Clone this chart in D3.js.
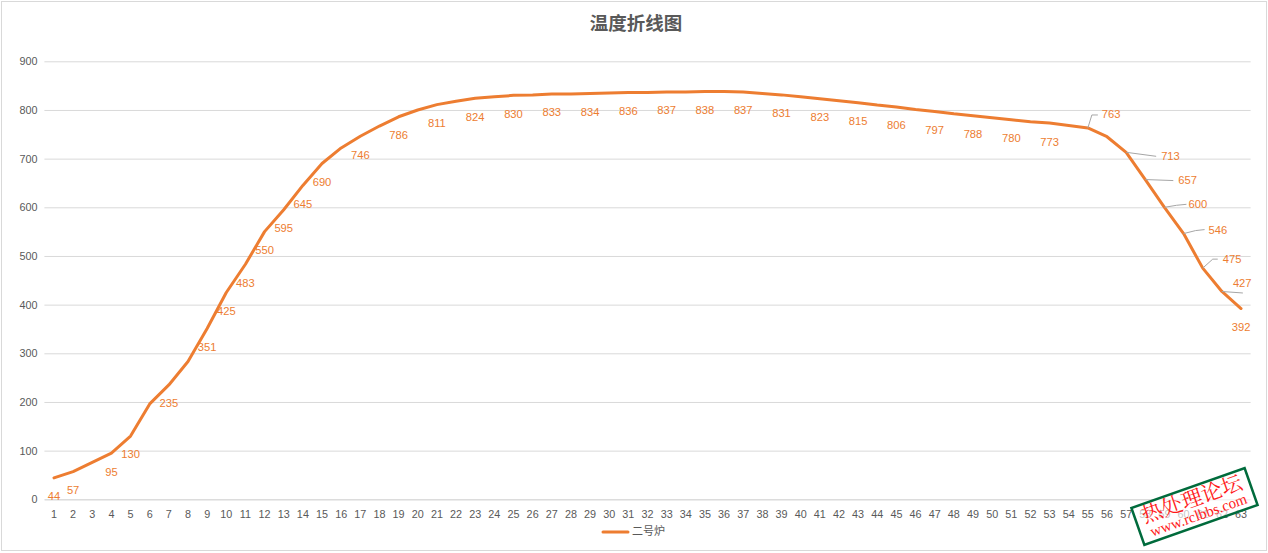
<!DOCTYPE html>
<html>
<head>
<meta charset="utf-8">
<script src="https://cdn.jsdelivr.net/npm/d3@7/dist/d3.min.js"></script>
<style>
  html, body { margin: 0; padding: 0; background: #fff; }
  svg { display: block; }
</style>
</head>
<body>
<svg id="chart" width="1268" height="553"></svg>
<script>
// ---- data ----
const title = "温度折线图";
const seriesName = "二号炉";
const categories = d3.range(1, 64).map(String);
const values = [44, 57, 76, 95, 130, 196, 235, 283, 351, 425, 483, 550, 595, 645, 690, 722, 746, 767, 786, 800,
  811, 818, 824, 827, 830, 831, 833, 833, 834, 835, 836, 836, 837, 837, 838, 838, 837, 834, 831, 827,
  823, 819, 815, 810, 806, 801, 797, 792, 788, 784, 780, 776, 773, 768, 763, 745, 713, 657, 600, 546,
  475, 427, 392];
const labeledCategories = ["1","2","4","5","7","9","10","11","12","13","14","15","17","19","21","23","25","27","29",
  "31","33","35","37","39","41","43","45","47","49","51","53","55","57","58","59","60","61","62","63"];
const yTicks = [0, 100, 200, 300, 400, 500, 600, 700, 800, 900];

// ---- layout / style (not data) ----
const color = "#ED7D31";
const textColor = "#595959";
const gridColor = "#D9D9D9";
const font = "'Liberation Sans', Arial, sans-serif";
// manually moved labels: text start offset and leader polyline, relative to the point
const movedLabels = {
  "55": { tx: 14, ty: -13, leader: [[0,0],[4,-13],[10,-13]] },
  "57": { tx: 35, ty: 5, leader: [[0,0],[30,4]] },
  "58": { tx: 33, ty: 1, leader: [[0,0],[28,1]] },
  "59": { tx: 24, ty: -2, leader: [[0,0],[12,-2],[22,-3]] },
  "60": { tx: 25, ty: -3, leader: [[0,0],[12,-3],[21,-4]] },
  "61": { tx: 20, ty: -8, leader: [[0,0],[10,-9],[15,-9]] },
  "62": { tx: 11, ty: -7, leader: [[0,0],[21,1.5]] }
};

const svg = d3.select("#chart");
svg.append("rect").attr("x", 1.5).attr("y", 1.5).attr("width", 1265).attr("height", 549)
  .attr("fill", "#fff").attr("stroke", gridColor).attr("stroke-width", 1);

const x = d3.scaleBand().domain(categories).range([44.4, 1250.6]);
const cx = d => x(d) + x.bandwidth() / 2;
const y = d3.scaleLinear().domain([0, 900]).range([499.3, 61.3]);

// title
svg.append("text").attr("x", 636).attr("y", 25).attr("text-anchor", "middle")
  .attr("dominant-baseline", "middle")
  .attr("font-family", "'Noto Sans CJK SC', sans-serif").attr("font-weight", "bold")
  .attr("font-size", 18.5).attr("fill", textColor).text(title);

// gridlines + y axis labels
const yAxis = d3.axisLeft(y).tickValues(yTicks).tickSize(-(1250.6 - 44.4)).tickPadding(7);
const gy = svg.append("g").attr("transform", "translate(44.4,0)").call(yAxis);
gy.select(".domain").remove();
gy.selectAll(".tick line").attr("stroke", gridColor).attr("stroke-width", 1);
gy.selectAll(".tick text").attr("font-family", font).attr("font-size", 10.8).attr("fill", textColor);

// x axis
const xAxis = d3.axisBottom(x).tickSize(0).tickPadding(11);
const gx = svg.append("g").attr("transform", `translate(0,${y(0)})`).call(xAxis);
gx.select(".domain").attr("stroke", gridColor);
gx.selectAll(".tick text").attr("font-family", font).attr("font-size", 10.8).attr("fill", textColor);

// line
const line = d3.line().x((d, i) => cx(categories[i])).y(d => y(d));
svg.append("path").datum(values).attr("d", line).attr("fill", "none")
  .attr("stroke", color).attr("stroke-width", 3).attr("stroke-linejoin", "round").attr("stroke-linecap", "round");

// data labels
const lbl = svg.append("g");
labeledCategories.forEach(c => {
  const i = categories.indexOf(c);
  const px = cx(c), py = y(values[i]);
  const m = movedLabels[c];
  if (m) {
    lbl.append("path")
      .attr("d", d3.line()(m.leader.map(p => [px + p[0], py + p[1]])))
      .attr("fill", "none").attr("stroke", "#A6A6A6").attr("stroke-width", 1);
    lbl.append("text").attr("x", px + m.tx).attr("y", py + m.ty)
      .attr("dominant-baseline", "middle").attr("text-anchor", "start")
      .attr("font-family", font).attr("font-size", 11.2).attr("fill", color).text(values[i]);
  } else {
    lbl.append("text").attr("x", px).attr("y", py + 19.5)
      .attr("dominant-baseline", "middle").attr("text-anchor", "middle")
      .attr("font-family", font).attr("font-size", 11.2).attr("fill", color).text(values[i]);
  }
});

// legend
const lg = svg.append("g");
lg.append("line").attr("x1", 603).attr("x2", 628).attr("y1", 532).attr("y2", 532)
  .attr("stroke", color).attr("stroke-width", 3).attr("stroke-linecap", "round");
lg.append("text").attr("x", 632).attr("y", 532).attr("dominant-baseline", "middle")
  .attr("font-family", "'Noto Sans CJK SC', sans-serif").attr("font-size", 11).attr("fill", textColor).text(seriesName);

// watermark stamp (semi-transparent background)
const wm = svg.append("g").attr("transform", "translate(1194.5,506.5) rotate(-19.4)");
wm.append("rect").attr("x", -60).attr("y", -19.5).attr("width", 120).attr("height", 39)
  .attr("fill", "#fff").attr("fill-opacity", 0.65).attr("stroke", "#006B3C").attr("stroke-width", 2.5);
wm.append("text").attr("x", 0).attr("y", -6).attr("text-anchor", "middle").attr("dominant-baseline", "middle")
  .attr("font-family", "'Noto Serif CJK SC', 'Noto Sans CJK SC', serif").attr("font-size", 21)
  .attr("fill", "#FF1A1A").text("热处理论坛");
wm.append("text").attr("x", 1).attr("y", 11).attr("text-anchor", "middle").attr("dominant-baseline", "middle")
  .attr("font-family", "'Liberation Serif', serif").attr("font-size", 15)
  .attr("fill", "#FF1A1A").text("www.rclbbs.com");
</script>
</body>
</html>
